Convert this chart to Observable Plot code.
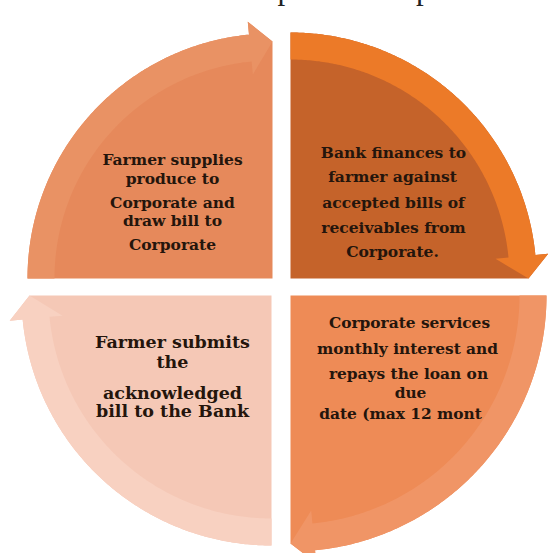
<!DOCTYPE html>
<html><head><meta charset="utf-8">
<script src="https://cdn.jsdelivr.net/npm/d3@7"></script>
<script src="https://cdn.jsdelivr.net/npm/@observablehq/plot@0.6"></script>
<style>body{margin:0;background:#fff}#chart svg{display:block}</style>
</head><body><div id="chart"></div>
<script>
// ---- data ----
const titleText = "The process map";
const quadrants = ["TL", "TR", "BR", "BL"];
const stepTL = ["Farmer supplies", "produce to", "Corporate and", "draw bill to", "Corporate"];
const stepTR = ["Bank finances to", "farmer against", "accepted bills of", "receivables from", "Corporate."];
const stepBR = ["Corporate services", "monthly interest and", "repays the loan on", "due", "date (max 12 mont"];
const stepBL = ["Farmer submits", "the", "acknowledged", "bill to the Bank"];
const stepLines = {TL: stepTL, TR: stepTR, BR: stepBR, BL: stepBL};

// ---- layout (pixels) ----
const W = 548, H = 553;
const geom = {
  TL: {cx: 272, cy: 278, R: 245, start: 270, body: "#E6895B", band: "#E99264"},
  TR: {cx: 290, cy: 278, R: 246, start: 0,   body: "#C5632A", band: "#EC7A28"},
  BR: {cx: 290, cy: 295, R: 256, start: 90,  body: "#EE8B56", band: "#F09566"},
  BL: {cx: 271, cy: 295, R: 250, start: 180, body: "#F5C8B6", band: "#F8D1C1"}
};
const HEAD = 5.5, EXT = 13, BANDW = 27, TIPIN = 8;
const textLayout = {
  TL: {x: [172, 172, 172, 172, 172], y: [160, 179, 203, 221, 245], size: 15.5},
  TR: {x: [393, 392, 393, 393, 392], y: [153, 177, 203, 228, 252], size: 15.5},
  BR: {x: [409, 407, 408, 410, 400], y: [323, 349, 374, 393, 414], size: 15.4},
  BL: {x: [172, 172, 172, 172], y: [342, 362, 393, 411], size: 17.5}
};

function pt(g, deg, r) {
  const a = deg * Math.PI / 180;
  return [g.cx + r * Math.sin(a), g.cy - r * Math.cos(a)];
}
const shapes = [];
for (const q of quadrants) {
  const g = geom[q];
  const s = g.start, e = g.start + 90, eh = e - HEAD;
  const body = [[g.cx, g.cy]];
  for (let d = s; d <= eh + 1e-9; d += 0.5) body.push(pt(g, Math.min(d, eh), g.R));
  body.push(pt(g, eh, g.R + EXT), pt(g, e, g.R - TIPIN));
  body.forEach((p, i) => shapes.push({key: q + "body", x: p[0], y: p[1], fill: g.body, i}));
  const band = [];
  for (let d = s; d <= eh + 1e-9; d += 0.5) band.push(pt(g, Math.min(d, eh), g.R));
  band.push(pt(g, eh, g.R + EXT), pt(g, e, g.R - TIPIN), pt(g, eh, g.R - BANDW - EXT));
  for (let d = eh; d >= s - 1e-9; d -= 0.5) band.push(pt(g, Math.max(d, s), g.R - BANDW));
  band.forEach((p, i) => shapes.push({key: q + "band", x: p[0], y: p[1], fill: g.band, i}));
}
const labels = [];
for (const q of quadrants) {
  const L = textLayout[q];
  stepLines[q].forEach((t, i) => labels.push({q, text: t, x: L.x[i], y: L.y[i], size: L.size}));
}

const chart = Plot.plot({
  width: W, height: H,
  margin: 0,
  x: {domain: [0, W], range: [0, W], axis: null},
  y: {domain: [0, H], range: [0, H], axis: null},
  color: {type: "identity"},
  marks: [
    Plot.line(shapes, {x: "x", y: "y", z: "key", fill: "fill", stroke: "none", curve: "linear-closed"}),
    Plot.text(labels, {x: "x", y: "y", text: "text", fontSize: "size", fill: "#24150c",
      fontFamily: "DejaVu Serif", fontWeight: "bold"}),
    Plot.text([titleText], {x: [221], y: [-11.5], text: d => d, textAnchor: "start", fontSize: 31,
      fontFamily: "Liberation Serif", fill: "#222"})
  ]
});
document.getElementById("chart").appendChild(chart);
</script>
</body></html>
